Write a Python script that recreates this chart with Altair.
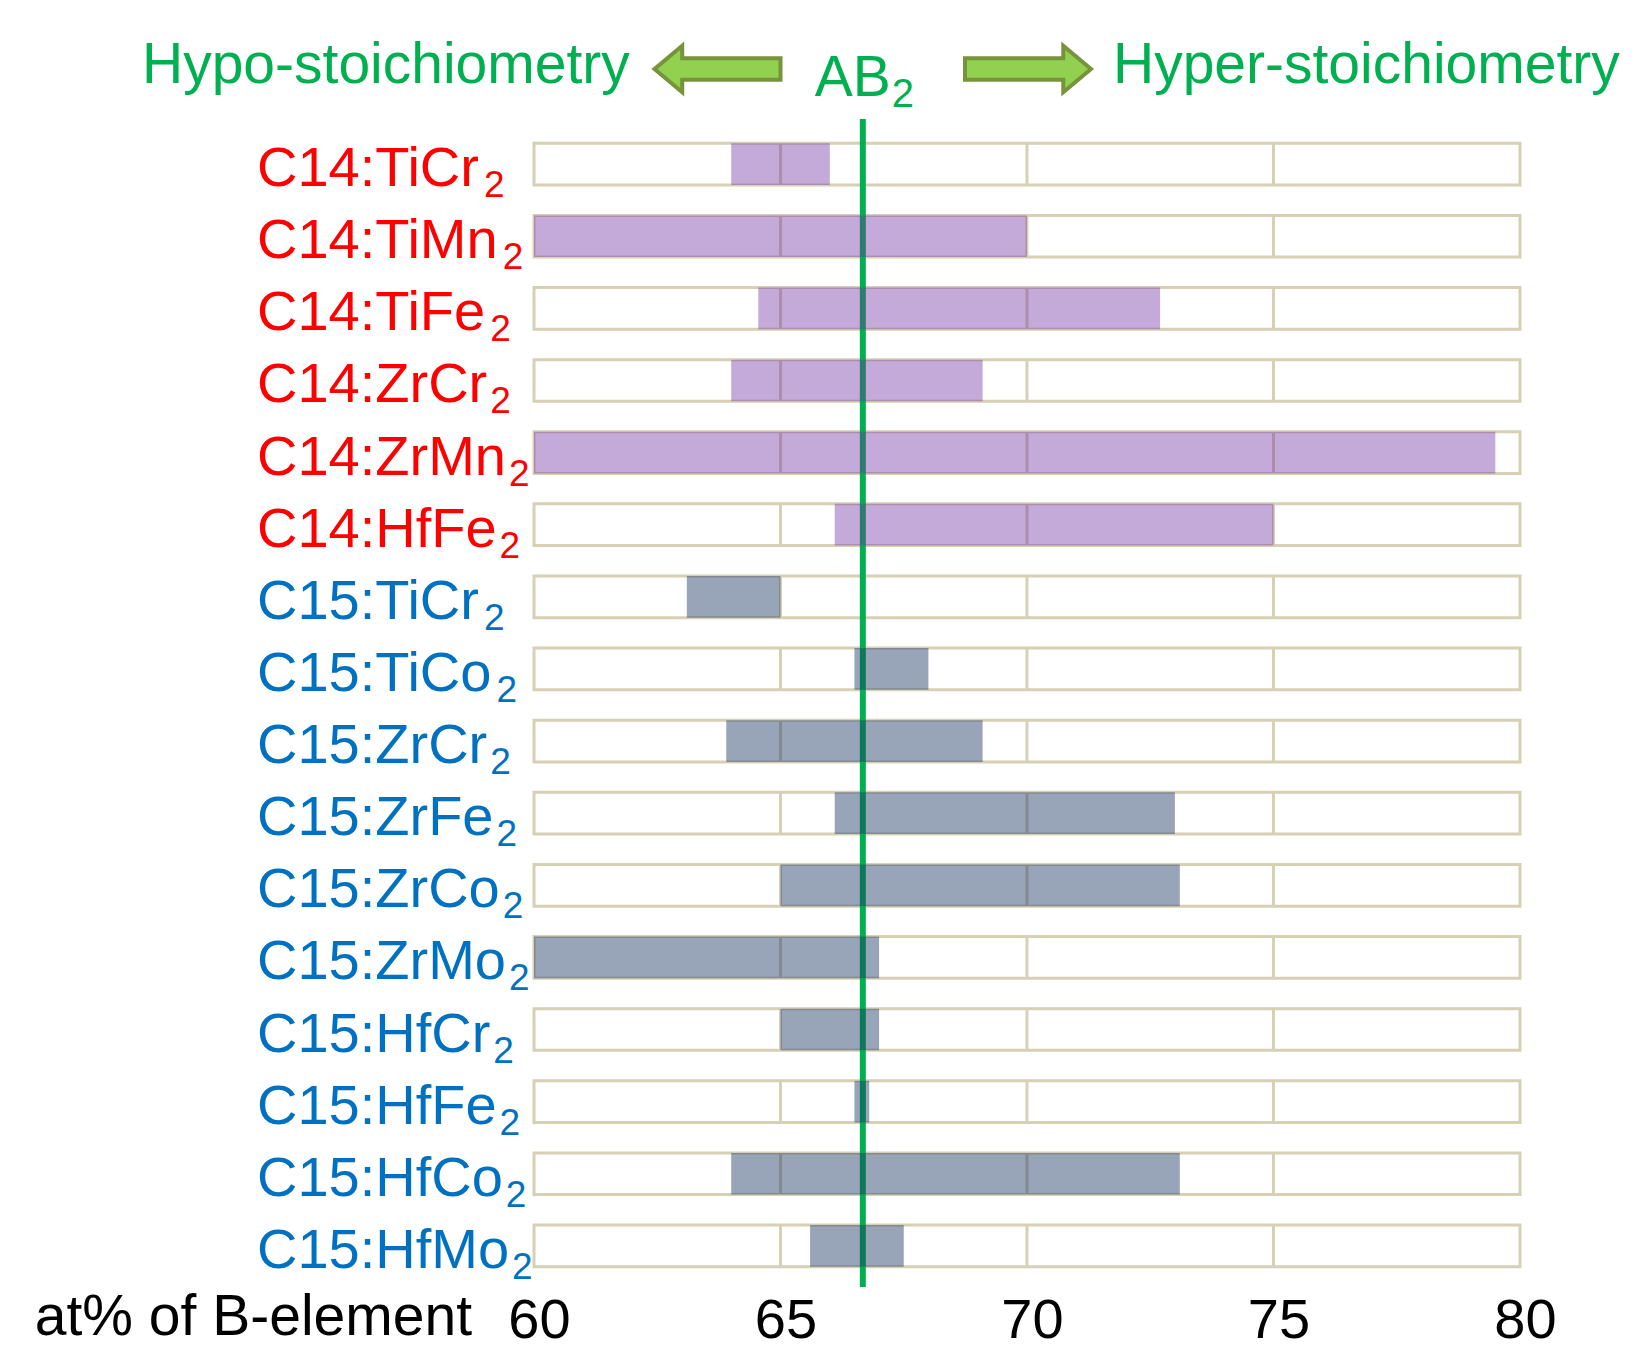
import altair as alt
import pandas as pd

# ---------------- data ----------------
phases = ["C14"] * 6 + ["C15"] * 10
formulas = ["TiCr", "TiMn", "TiFe", "ZrCr", "ZrMn", "HfFe",
            "TiCr", "TiCo", "ZrCr", "ZrFe", "ZrCo", "ZrMo", "HfCr", "HfFe", "HfCo", "HfMo"]
b_min = [64.0, 60.0, 64.55, 64.0, 60.0, 66.1, 63.1, 66.5, 63.9, 66.1, 65.0, 60.0, 65.0, 66.5, 64.0, 65.6]
b_max = [66.0, 70.0, 72.7, 69.1, 79.5, 75.0, 65.0, 68.0, 69.1, 73.0, 73.1, 67.0, 67.0, 66.8, 73.1, 67.5]
x_ticks = [60, 65, 70, 75, 80]
grid_values = [65, 70, 75]
ab2_at = 66.67
axis_label = ["at% of B-element"]
heading_left = ["Hypo-stoichiometry"]
heading_right = ["Hyper-stoichiometry"]
heading_center = ["AB"]
subscript = ["2"]

# ---------------- layout / style ----------------
W, H = 986, 1168
FONT = "Liberation Sans"
GREEN = "#00B050"
BEIGE = "#D6D0B4"
phase_label_color = {"C14": "#FF0000", "C15": "#0070C0"}
phase_bar_color = {"C14": "#7030A0", "C15": "#1F3864"}
phase_bar_opacity = {"C14": 0.41, "C15": 0.46}

ARIAL = {"C": 722, "1": 556, "4": 556, "5": 556, ":": 278, "T": 611, "i": 222,
         "r": 333, "M": 833, "n": 556, "F": 611, "e": 556, "Z": 611, "H": 722,
         "f": 278, "o": 556}
LABEL_FS = 56
SUB_FS = 37
LABEL_X = -277

x_min, x_max = x_ticks[0], x_ticks[-1]
px_per_unit = W / (x_max - x_min)

df = pd.DataFrame({"phase": phases, "formula": formulas, "lo": b_min, "hi": b_max})
df["main"] = df["phase"] + ":" + df["formula"]
df["row"] = df["main"] + "2"
df["sub"] = subscript[0]
df["main_w"] = df["main"].apply(lambda s: sum(ARIAL[c] for c in s) * LABEL_FS / 1000)
df["sub_x"] = x_min + (LABEL_X + df["main_w"] + 3) / px_per_unit
df["box_lo"] = x_min
df["box_hi"] = x_max
df["label_color"] = df["phase"].map(phase_label_color)
df["bar_color"] = df["phase"].map(phase_bar_color)
df["bar_opacity"] = df["phase"].map(phase_bar_opacity)
rows = list(df["row"])

grid_df = pd.DataFrame([(r, g) for r in rows for g in grid_values], columns=["row", "g"])

xscale = alt.Scale(domain=[x_min, x_max], nice=False, zero=False)
x_axis = alt.Axis(values=x_ticks, title=None, domain=False, ticks=False, tickSize=0,
                  grid=False, labelFontSize=56, labelFont=FONT, labelColor="black",
                  labelPadding=6, labelFlush=False, labelOffset=5)
yscale = alt.Scale(domain=rows, paddingInner=0.422, paddingOuter=0.309, align=0.545)
y_enc = alt.Y("row:N", sort=rows, scale=yscale, axis=None)


def xq(field):
    return alt.X(field, type="quantitative", scale=xscale, axis=x_axis)


base = alt.Chart(df)

boxes = base.mark_rect(fill="white", stroke=BEIGE, strokeWidth=3).encode(
    x=xq("box_lo"), x2="box_hi:Q", y=y_enc,
)

grid = alt.Chart(grid_df).mark_tick(color=BEIGE, thickness=3, size=42, opacity=1).encode(
    x=xq("g"), y=y_enc,
)

ab2_line = alt.Chart(pd.DataFrame({"v": [ab2_at]})).mark_rule(color=GREEN, strokeWidth=6).encode(
    x=xq("v")
)

bars = base.mark_rect().encode(
    x=xq("lo"), x2="hi:Q", y=y_enc,
    color=alt.Color("bar_color:N", scale=None),
    opacity=alt.Opacity("bar_opacity:Q", scale=None),
)

labels = base.mark_text(align="left", baseline="alphabetic", dy=22, fontSize=LABEL_FS, font=FONT).encode(
    x=alt.value(LABEL_X),
    y=y_enc,
    text="main:N",
    color=alt.Color("label_color:N", scale=None),
)

subs = base.mark_text(align="left", baseline="alphabetic", dy=33, fontSize=SUB_FS, font=FONT).encode(
    x=xq("sub_x"),
    y=y_enc,
    text="sub:N",
    color=alt.Color("label_color:N", scale=None),
)

xlabel = alt.Chart(pd.DataFrame({"t": axis_label})).mark_text(
    align="right", baseline="alphabetic", fontSize=57, font=FONT, color="black"
).encode(x=alt.value(-62), y=alt.value(1216), text="t:N")

hypo = alt.Chart(pd.DataFrame({"t": heading_left})).mark_text(
    align="left", baseline="alphabetic", fontSize=57, font=FONT, color=GREEN
).encode(x=alt.value(-392), y=alt.value(-36), text="t:N")

hyper = alt.Chart(pd.DataFrame({"t": heading_right})).mark_text(
    align="left", baseline="alphabetic", fontSize=57, font=FONT, color=GREEN
).encode(x=alt.value(579), y=alt.value(-36), text="t:N")

ab_txt = alt.Chart(pd.DataFrame({"t": heading_center, "v": [ab2_at]})).mark_text(
    align="left", baseline="alphabetic", fontSize=57, font=FONT, color=GREEN, dx=-48
).encode(x=xq("v"), y=alt.value(-23), text="t:N")

ab_sub = alt.Chart(pd.DataFrame({"t": subscript, "v": [ab2_at]})).mark_text(
    align="left", baseline="alphabetic", fontSize=40, font=FONT, color=GREEN, dx=29
).encode(x=xq("v"), y=alt.value(-12), text="t:N")

RIGHT_ARROW = "M -1 -0.17 L 0.56 -0.17 L 0.56 -0.37 L 1 0 L 0.56 0.37 L 0.56 0.17 L -1 0.17 Z"
LEFT_ARROW = "M 1 -0.17 L -0.56 -0.17 L -0.56 -0.37 L -1 0 L -0.56 0.37 L -0.56 0.17 L 1 0.17 Z"
arrow_df = pd.DataFrame({"a": [0]})
left_arrow = alt.Chart(arrow_df).mark_point(
    shape=LEFT_ARROW, size=15876, filled=True, fill="#92D050", stroke="#77933C",
    strokeWidth=4, opacity=1
).encode(x=alt.value(183.5), y=alt.value(-50))
right_arrow = alt.Chart(arrow_df).mark_point(
    shape=RIGHT_ARROW, size=15876, filled=True, fill="#92D050", stroke="#77933C",
    strokeWidth=4, opacity=1
).encode(x=alt.value(494), y=alt.value(-50))

chart = alt.layer(
    boxes, grid, ab2_line, bars, labels, subs, xlabel, hypo, hyper, ab_txt, ab_sub,
    left_arrow, right_arrow
).properties(
    width=W, height=H,
    padding={"left": 526, "top": 111, "right": 112, "bottom": 70},
    autosize="none",
    background="white",
).configure_view(stroke=None)

chart.save("out.html", embed_options={"renderer": "svg", "actions": False})
